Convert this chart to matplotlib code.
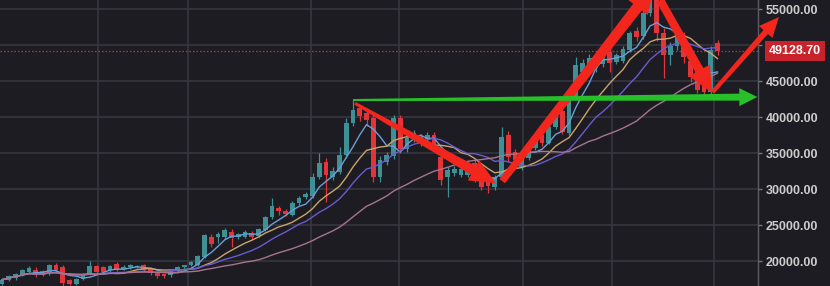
import numpy as np
import pandas as pd
import matplotlib
matplotlib.use("Agg")
import matplotlib.pyplot as plt
from matplotlib.patches import Polygon
from matplotlib.transforms import IdentityTransform

# Daily OHLC candles (oldest first)
opens = [16800, 17400, 17600, 18050, 18500, 18800, 18600, 18300, 19400, 19100,
         17300, 16850, 17500, 18100, 19300, 19100, 18700, 19600, 18900, 19100,
         19200, 19400, 18900, 18400, 18200, 18000, 18600, 19100, 19400, 19450,
         20550, 23400, 23300, 23400, 24000, 23300, 23400, 23900, 23500, 24300,
         26100, 27400, 27000, 26400, 28000, 28900, 29000, 31700, 33800, 31600,
         32400, 34700, 39200, 41200, 40500, 39900, 31600, 33800, 34600, 39800,
         35600, 36900, 36500, 36900, 37500, 34400, 31600, 32200, 32000, 32000,
         33600, 31900, 31000, 30300, 31700, 37500, 35100, 33000, 34300, 35700,
         37500, 36400, 38600, 40900, 37800, 42800, 46300, 47000, 46800, 47300,
         49000, 47600, 47800, 49300, 52000, 51200, 54500, 56500, 51700, 48600,
         49900, 51000, 47800, 46500, 45000, 43500, 50300]
highs = [17600, 18100, 18400, 18900, 19300, 19100, 18800, 19600, 19700, 19400,
         17500, 17700, 18300, 19950, 19500, 19300, 19500, 19800, 19400, 19600,
         19500, 19600, 19100, 18600, 18300, 18800, 19300, 19500, 19950, 20900,
         23800, 23700, 24000, 24600, 24500, 23900, 24300, 24100, 24600, 26300,
         28800, 27700, 27200, 28300, 29000, 29600, 32200, 35000, 34300, 33000,
         35800, 39800, 42300, 41600, 41000, 40500, 34600, 35200, 40300, 40300,
         37600, 38200, 37600, 37900, 37900, 35000, 33000, 33200, 33000, 33800,
         34000, 32200, 31300, 32000, 38600, 38000, 35600, 34600, 36000, 37500,
         37900, 38900, 40300, 41300, 43100, 48300, 48000, 48700, 48900, 49000,
         49700, 48900, 49800, 52000, 52500, 55800, 58300, 57000, 52300, 50400,
         51900, 51800, 48300, 47000, 45500, 49800, 50700]
lows = [16600, 17200, 17400, 17900, 18300, 17800, 17900, 18100, 18500, 16500,
        16600, 16600, 17300, 18000, 18200, 18300, 18500, 18600, 18700, 18900,
        19000, 18600, 18000, 17600, 17600, 17800, 18400, 18900, 19300, 19300,
        20400, 22000, 22500, 23100, 22000, 23000, 23200, 23100, 23300, 24100,
        25900, 26400, 26200, 26200, 27800, 28600, 28700, 31400, 28200, 31200,
        32100, 34300, 38800, 39500, 38800, 31000, 31000, 33400, 34200, 35000,
        35200, 36500, 36000, 36600, 35500, 30500, 28900, 31800, 31600, 31700,
        31000, 29800, 29500, 29800, 31200, 33800, 33700, 32600, 34000, 35400,
        36000, 36200, 38300, 37600, 37500, 42500, 45800, 46700, 46300, 47000,
        46200, 47300, 47500, 49000, 50600, 50900, 54000, 50500, 45400, 47200,
        49300, 47500, 44800, 43400, 43000, 43000, 48600]
closes = [17400, 17900, 18200, 18750, 19000, 18100, 18050, 19400, 18750, 17000,
          16800, 17500, 18100, 19350, 18500, 18500, 19300, 18750, 19200, 19400,
          19350, 18800, 18300, 17900, 17900, 18600, 19200, 19400, 19800, 20700,
          23600, 22400, 23700, 24300, 23200, 23700, 24000, 23400, 24400, 26100,
          27700, 26900, 26500, 28000, 28800, 29300, 31700, 33600, 31900, 32500,
          34700, 39200, 41000, 40200, 39600, 31600, 34000, 34700, 39800, 35500,
          37100, 37800, 37200, 37500, 35800, 31300, 32600, 32800, 32800, 33300,
          31500, 30300, 30400, 31700, 37200, 34400, 34000, 34300, 35700, 37200,
          36400, 38600, 40000, 37900, 42800, 47200, 47500, 48200, 48300, 48500,
          47500, 48600, 49400, 51700, 51100, 54500, 56500, 51700, 48600, 49900,
          51300, 48300, 45600, 43800, 43500, 49300, 49128.70]

ma_periods = [5, 10, 15, 30]
last_price = 49128.70
price_ticks = [20000, 25000, 30000, 35000, 40000, 45000, 50000, 55000]

# styling
BG = "#1c1c22"
GRID = "#383844"
UP = "#3f9094"
DOWN = "#e3343a"
MA_COLORS = ["#6b9fd8", "#c9a46c", "#6a5bd0", "#a8748f"]
ARROW_RED = "#f2261d"
ARROW_GREEN = "#27c02a"

plt.rcParams["font.family"] = ["Liberation Sans", "DejaVu Sans"]
plt.rcParams["font.weight"] = "bold"

W, H, DPI = 830, 286, 100
fig = plt.figure(figsize=(W / DPI, H / DPI), dpi=DPI, facecolor=BG)
ax = fig.add_axes([0, 0, 758 / W, 1])
ax.set_facecolor(BG)

x = np.arange(len(closes))
o = np.array(opens, float)
h = np.array(highs, float)
l = np.array(lows, float)
c = np.array(closes, float)
up = c >= o
colors = np.where(up, UP, DOWN)

XLIM = (-0.3, 112.0)
YLIM = (16530, 56250)
ax.set_xlim(*XLIM)
ax.set_ylim(*YLIM)

# grid
ax.set_yticks(price_ticks)
ax.set_xticks([14.2, 27.6, 45.8, 58.8, 77.2, 90.4, 105.5])
ax.grid(True, color=GRID, lw=1.1, zorder=0)
ax.set_axisbelow(True)

# candles
ax.vlines(x, l, h, colors=colors, lw=0.9, zorder=2)
body = np.maximum(np.abs(c - o), 60)
ax.bar(x, body, bottom=np.minimum(o, c), width=0.7, color=colors, lw=0, zorder=3)

# moving averages
s = pd.Series(c)
for p, col in zip(ma_periods, MA_COLORS):
    ax.plot(x, s.rolling(p, min_periods=1).mean(), color=col, lw=1.0, zorder=4)

# last price line and label
ax.axhline(last_price, color="#c0343a", lw=0.9, ls=(0, (1.2, 1.6)), zorder=1.5)
ax.annotate(f"{last_price:.2f}", xy=(1.0, last_price),
            xycoords=("axes fraction", "data"),
            xytext=(11 * 72 / DPI, 0), textcoords="offset points",
            ha="left", va="center", fontsize=9, fontweight="bold", color="white",
            bbox=dict(boxstyle="square,pad=0.32", fc="#c8222b", ec="none"),
            annotation_clip=False, zorder=10)


# price scale labels; the one under the last-price tag is left out
def price_fmt(v, _):
    return "" if abs(v - last_price) < 1500 else f"{v:.2f}"


ax.yaxis.tick_right()
ax.yaxis.set_major_formatter(plt.FuncFormatter(price_fmt))
ax.tick_params(axis="y", colors="#77777f", labelcolor="#cdcdcd", length=3,
               width=1, pad=2.5, labelsize=9)
ax.tick_params(axis="x", length=0, labelbottom=False)
for side in ["left", "top", "bottom"]:
    ax.spines[side].set_visible(False)
ax.spines["right"].set_color("#5c5c64")
ax.spines["right"].set_linewidth(1.0)
ax.set_xlim(*XLIM)
ax.set_ylim(*YLIM)


def fat_arrow(p0, p1, w0, w1, head_w, head_len, color, z):
    a = ax.transData.transform(p0)
    b = ax.transData.transform(p1)
    d = b - a
    u = d / np.hypot(*d)
    nrm = np.array([-u[1], u[0]])
    s0 = b - u * head_len
    pts = [a + nrm * w0 / 2, s0 + nrm * w1 / 2, s0 + nrm * head_w / 2, b,
           s0 - nrm * head_w / 2, s0 - nrm * w1 / 2, a - nrm * w0 / 2]
    fig.add_artist(Polygon(pts, closed=True, transform=IdentityTransform(),
                           facecolor=color, edgecolor="none", zorder=z))


# trend arrows
fat_arrow((52.3, 41900), (73.2, 30800), 3, 10, 23, 26, ARROW_RED, 6)
fat_arrow((74.1, 31100), (96.7, 58330), 7, 11, 26, 28, ARROW_RED, 6)
fat_arrow((97.5, 56250), (105.2, 43330), 8, 9, 24, 26, ARROW_RED, 6)
fat_arrow((105.3, 43470), (115.1, 53890), 4, 6, 18, 20, ARROW_RED, 6)
fat_arrow((52.0, 42360), (111.9, 42780), 2, 7, 18, 18, ARROW_GREEN, 7)

fig.savefig("out.png", dpi=DPI, facecolor=BG)
